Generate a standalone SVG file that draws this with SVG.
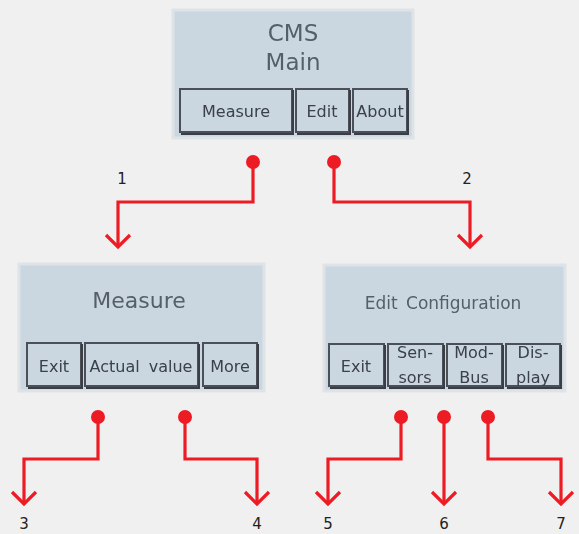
<svg xmlns="http://www.w3.org/2000/svg" width="579" height="534" viewBox="0 0 579 534">
<defs>
<marker id="dot" markerUnits="userSpaceOnUse" markerWidth="16" markerHeight="16" refX="8" refY="8" overflow="visible" orient="auto"><circle cx="8" cy="8" r="7" fill="#ed1c24"/></marker>
<marker id="chev" markerUnits="userSpaceOnUse" markerWidth="30" markerHeight="30" refX="0" refY="0" overflow="visible" orient="auto"><path d="M-12,-12 L0,0 L-12,12" fill="none" stroke="#ed1c24" stroke-width="3.2"/></marker>
<filter id="soft" x="-5%" y="-5%" width="110%" height="110%"><feGaussianBlur stdDeviation="0.4"/></filter>
</defs>
<style>
.bg{fill:#f0f0f0}
.screen{fill:#cad7e0;stroke:#dde3e7;stroke-width:3}
.btn{fill:#cad7e0;stroke:#4c5058;stroke-width:2}
.sh{fill:none;stroke:#3a3c44;stroke-width:2}
.title{font-family:"DejaVu Sans",sans-serif;fill:#555e6a;text-anchor:middle}
.bt{font-family:"DejaVu Sans",sans-serif;font-size:16px;fill:#3a404b;text-anchor:middle}
.conn{fill:none;stroke:#ed1c24;stroke-width:3.2;marker-start:url(#dot);marker-end:url(#chev)}
.lbl{font-family:"DejaVu Sans",sans-serif;font-size:15px;fill:#222;text-anchor:middle}
</style>
<rect class="bg" x="0" y="0" width="579" height="534"/>

<g id="main" filter="url(#soft)">
<rect class="screen" x="173" y="10" width="240" height="128"/>
<text class="title" x="293" y="41" font-size="23">CMS</text>
<text class="title" x="293" y="70" font-size="23">Main</text>
<rect class="btn" x="180" y="89" width="112" height="43"/>
<path class="sh" d="M181,134 H293 V90"/>
<text class="bt" x="236" y="117">Measure</text>
<rect class="btn" x="296" y="89" width="53" height="43"/>
<path class="sh" d="M297,134 H350 V90"/>
<text class="bt" x="322" y="117">Edit</text>
<rect class="btn" x="353" y="89" width="54" height="43"/>
<path class="sh" d="M354,134 H408 V90"/>
<text class="bt" x="380" y="117">About</text>
</g>

<g id="measure" filter="url(#soft)">
<rect class="screen" x="19" y="264" width="245" height="127"/>
<text class="title" x="139" y="308" font-size="22">Measure</text>
<rect class="btn" x="27" y="343" width="54" height="43"/>
<path class="sh" d="M28,388 H82 V344"/>
<text class="bt" x="54" y="372">Exit</text>
<rect class="btn" x="85" y="343" width="113" height="43"/>
<path class="sh" d="M86,388 H199 V344"/>
<text class="bt" x="141" y="372" word-spacing="4">Actual value</text>
<rect class="btn" x="203" y="343" width="54" height="43"/>
<path class="sh" d="M204,388 H258 V344"/>
<text class="bt" x="230" y="372">More</text>
</g>

<g id="edit" filter="url(#soft)">
<rect class="screen" x="324" y="265" width="241" height="126"/>
<text class="title" x="443" y="309" font-size="17" fill="#454c57" word-spacing="3">Edit Configuration</text>
<rect class="btn" x="329" y="344" width="55" height="42"/>
<path class="sh" d="M330,388 H385 V345"/>
<text class="bt" x="356" y="372">Exit</text>
<rect class="btn" x="388" y="344" width="55" height="42"/>
<path class="sh" d="M389,388 H444 V345"/>
<text class="bt" x="415" y="358">Sen-</text>
<text class="bt" x="415" y="383">sors</text>
<rect class="btn" x="447" y="344" width="55" height="42"/>
<path class="sh" d="M448,388 H503 V345"/>
<text class="bt" x="474" y="358">Mod-</text>
<text class="bt" x="474" y="383">Bus</text>
<rect class="btn" x="506" y="344" width="54" height="42"/>
<path class="sh" d="M507,388 H561 V345"/>
<text class="bt" x="533" y="358">Dis-</text>
<text class="bt" x="533" y="383">play</text>
</g>

<g id="connectors">
<path class="conn" d="M253,162 V202 H118 V247"/>
<path class="conn" d="M334,162 V202 H470 V247"/>
<path class="conn" d="M98,417 V459 H24 V504"/>
<path class="conn" d="M185,417 V459 H257 V504"/>
<path class="conn" d="M401,417 V459 H328 V504"/>
<path class="conn" d="M444,417 V504"/>
<path class="conn" d="M488,417 V459 H561 V504"/>
</g>

<g id="labels">
<text class="lbl" x="122" y="184">1</text>
<text class="lbl" x="467" y="184">2</text>
<text class="lbl" x="24" y="529">3</text>
<text class="lbl" x="257" y="529">4</text>
<text class="lbl" x="328" y="529">5</text>
<text class="lbl" x="444" y="529">6</text>
<text class="lbl" x="561" y="529">7</text>
</g>
</svg>
